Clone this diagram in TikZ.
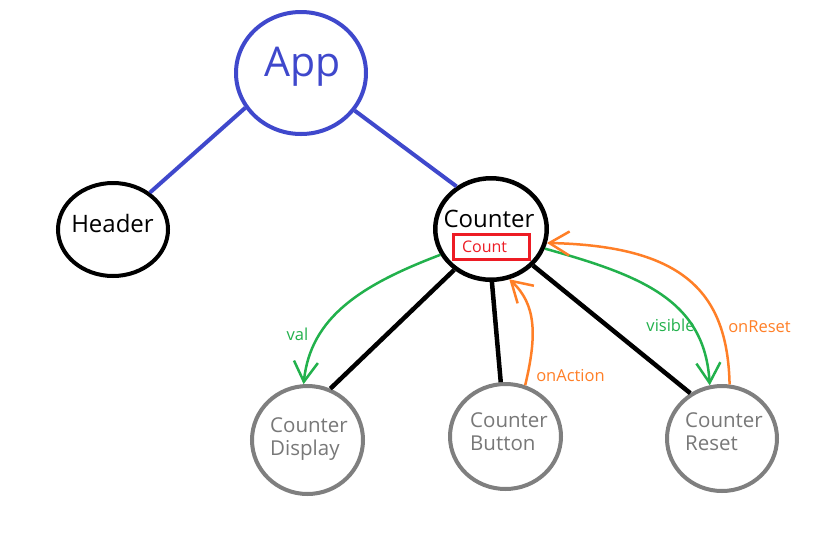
\documentclass[tikz,border=0pt]{standalone}
\usepackage{fontspec}
\setmainfont{Open Sans}
\usetikzlibrary{shapes.geometric,arrows.meta}
\definecolor{appblue}{HTML}{3F48CC}
\definecolor{pgreen}{HTML}{22B14C}
\definecolor{porange}{HTML}{FF7F27}
\definecolor{pred}{HTML}{ED1C24}
\definecolor{pgray}{HTML}{7F7F7F}
\definecolor{tgray}{HTML}{787878}
\begin{document}
\begin{tikzpicture}[x=1pt,y=-1pt,
  bubble/.style={ellipse, draw, line width=4pt, inner sep=0pt},
  subbubble/.style={bubble, draw=pgray},
  biglbl/.style={font=\fontsize{24}{29}\selectfont, inner sep=0pt, anchor=base},
  sublbl/.style={font=\fontsize{20.5}{23.5}\selectfont, text=tgray, inner sep=0pt, align=left, anchor=base west},
  edgelbl/.style={font=\fontsize{16.5}{20}\selectfont, inner sep=0pt, anchor=base},
  blueline/.style={draw=appblue, line width=4pt},
  blackline/.style={draw=black, line width=4.5pt},
  flow/.style={line width=2.5pt, -{Straight Barb[length=20pt,width=24pt]}},
]
\useasboundingbox (0,0) rectangle (820,558);
\fill[white] (0,0) rectangle (820,558);

% nodes
\node[bubble, draw=appblue, minimum width=130pt, minimum height=122pt] (app) at (301,73) {};
\node[bubble, minimum width=110pt, minimum height=93pt] (header) at (113,229.5) {};
\node[bubble, line width=4.5pt, minimum width=111.5pt, minimum height=101.5pt] (counter) at (491,229) {};
\node[subbubble, minimum width=111pt, minimum height=108pt] (display) at (307.5,440) {};
\node[subbubble, minimum width=111pt, minimum height=105pt] (button) at (505.5,436.5) {};
\node[subbubble, minimum width=110pt, minimum height=105pt] (reset) at (722,438.5) {};

% labels
\node[biglbl, font=\fontsize{41}{49}\selectfont, text=appblue] (applbl) at (302.5,76) {App};
\node[biglbl] (headerlbl) at (112.5,232) {Header};
\node[biglbl] (counterlbl) at (489,227) {Counter};
\node[draw=pred, line width=3pt, minimum width=76pt, minimum height=25pt, inner xsep=8.5pt, inner ysep=0pt,
      text width=59pt, align=left, text=pred, font=\fontsize{16}{19}\selectfont] (countbox) at (491.5,247) {Count};
\node[sublbl] (displaylbl) at (270,455.5) {Counter\\Display};
\node[sublbl] (buttonlbl) at (470,450.5) {Counter\\Button};
\node[sublbl] (resetlbl) at (685,450.5) {Counter\\Reset};

% structure lines
\draw[blueline] (app.212) -- (header.45);
\draw[blueline] (app.-35) -- (counter.129);
\draw[blackline] (counter.228) -- (display.66);
\draw[blackline] (counter.-89) -- (button.95);
\draw[blackline] (counter.-41) -- (reset.125);

% data flows
\draw[flow, pgreen] (counter.207) .. controls +(-79,30) and +(7,-67) .. (display.94);
\draw[flow, pgreen] (counter.-20) .. controls +(97,27) and +(-5,-85) .. (reset.103);
\draw[flow, porange] (reset.82) .. controls +(-2,-92) and +(137,3) .. (counter.-14);
\draw[flow, porange] (button.69) .. controls +(12,-50) and +(27,25) .. (counter.-70);

\node[edgelbl, text=pgreen] (vallbl) at (297.5,340) {val};
\node[edgelbl, text=pgreen] (visiblelbl) at (670.5,331) {visible};
\node[edgelbl, text=porange] (onresetlbl) at (759.5,332) {onReset};
\node[edgelbl, text=porange] (onactionlbl) at (570.5,381) {onAction};
\end{tikzpicture}
\end{document}
